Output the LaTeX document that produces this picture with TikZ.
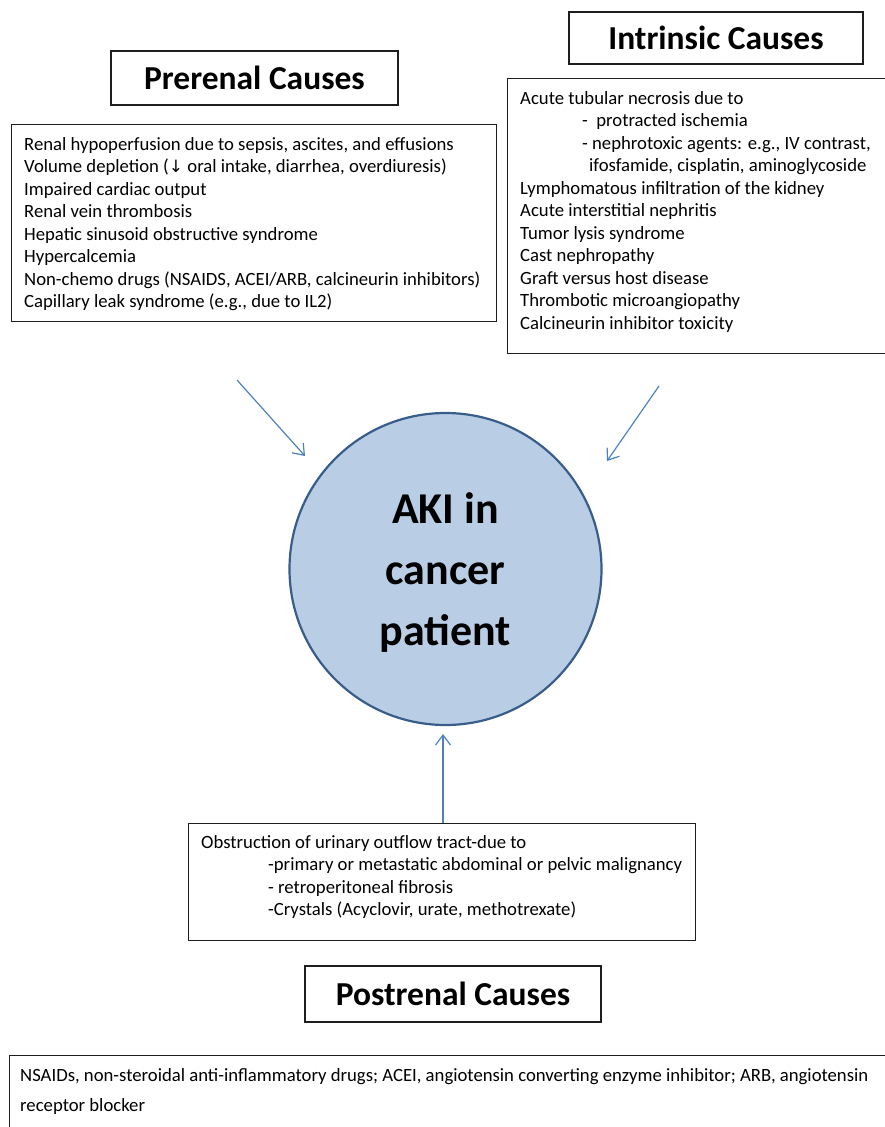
\documentclass[tikz,border=0pt]{standalone}
\usepackage{fontspec}
\setmainfont{Carlito}
\usetikzlibrary{arrows.meta}
\definecolor{arrowblue}{RGB}{79,129,189}
\definecolor{circfill}{RGB}{185,205,229}
\definecolor{circline}{RGB}{56,93,138}
\definecolor{boxline}{RGB}{30,30,30}
\begin{document}
\begin{tikzpicture}[x=1pt,y=-1pt,
  titlebox/.style={draw=boxline,line width=1.1pt,rectangle,inner sep=0pt,
    font=\fontsize{33.5}{36}\selectfont\bfseries},
  listbox/.style={draw=boxline,line width=1.1pt,rectangle,inner sep=0pt},
  listtext/.style={anchor=north west,inner sep=0pt,align=left,
    font=\fontsize{18.7}{22.5}\selectfont},
  conn/.style={draw=arrowblue,line width=1.2pt,-{Straight Barb[length=10pt,width=15pt,line width=1.2pt]}}
]
\useasboundingbox (0,0) rectangle (885,1127);

% title boxes
\node[titlebox,minimum width=287pt,minimum height=54pt] (pret) at (254.5,78) {Prerenal Causes};
\node[titlebox,minimum width=294pt,minimum height=52pt] (intt) at (716,38) {Intrinsic Causes};
\node[titlebox,minimum width=296pt,minimum height=56pt] (postt) at (453,994) {Postrenal Causes};

% list boxes
\node[listbox,anchor=north west,minimum width=485pt,minimum height=197pt] (prebox) at (11,124) {};
\node[listtext] (pretext) at (24,137) {%
Renal hypoperfusion due to sepsis, ascites, and effusions\\
Volume depletion ({\fontspec{DejaVu Sans}\fontsize{17}{18}\selectfont ↓} oral intake, diarrhea, overdiuresis)\\
Impaired cardiac output\\
Renal vein thrombosis\\
Hepatic sinusoid obstructive syndrome\\
Hypercalcemia\\
Non-chemo drugs (NSAIDS, ACEI/ARB, calcineurin inhibitors)\\
Capillary leak syndrome (e.g., due to IL2)};

\node[listbox,anchor=north west,minimum width=385pt,minimum height=275pt] (intbox) at (507,78) {};
\node[listtext] (inttext) at (520,91) {%
Acute tubular necrosis due to\\
\hspace{62pt}-\ \ protracted ischemia\\
\hspace{62pt}- nephrotoxic agents: e.g., IV contrast,\\
\hspace{69pt}ifosfamide, cisplatin, aminoglycoside\\
Lymphomatous infiltration of the kidney\\
Acute interstitial nephritis\\
Tumor lysis syndrome\\
Cast nephropathy\\
Graft versus host disease\\
Thrombotic microangiopathy\\
Calcineurin inhibitor toxicity};

\node[listbox,anchor=north west,minimum width=507pt,minimum height=117pt] (postbox) at (188,823) {};
\node[listtext] (posttext) at (201,835) {%
Obstruction of urinary outflow tract-due to\\
\hspace{67pt}-primary or metastatic abdominal or pelvic malignancy\\
\hspace{67pt}- retroperitoneal fibrosis\\
\hspace{67pt}-Crystals (Acyclovir, urate, methotrexate)};

% footnote
\node[listbox,anchor=north west,minimum width=885pt,minimum height=80pt] (footbox) at (9,1055) {};
\node[anchor=north west,inner sep=0pt,align=left,font=\fontsize{18.7}{30}\selectfont] (foottext) at (20,1068) {%
NSAIDs, non-steroidal anti-inflammatory drugs; ACEI, angiotensin converting enzyme inhibitor; ARB, angiotensin\\
receptor blocker};

% central circle
\node[circle,draw=circline,fill=circfill,line width=2.2pt,minimum size=312pt,inner sep=0pt] (aki) at (445.5,569) {};
\node[font=\fontsize{44}{61}\selectfont\bfseries,align=center,inner sep=0pt] (akitext) at (445.5,573) {AKI in\\cancer\\patient};

% connectors
\coordinate (a1s) at (237,380);
\coordinate (a1e) at (305,456);
\coordinate (a2s) at (659,386);
\coordinate (a2e) at (607,461);
\coordinate (a3e) at (443,734);
\draw[conn] (a1s) -- (a1e);
\draw[conn] (a2s) -- (a2e);
\draw[conn] (postbox.north -| a3e) -- (a3e);
\end{tikzpicture}
\end{document}
